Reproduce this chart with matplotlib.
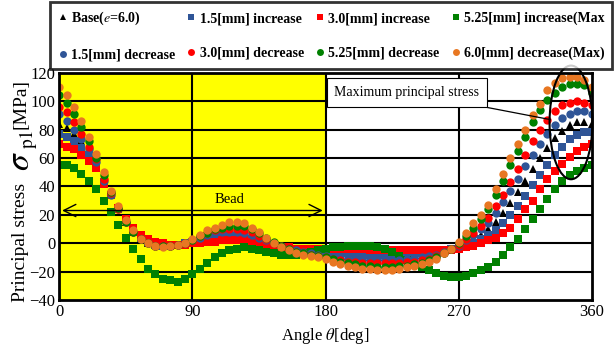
import numpy as np
import matplotlib
matplotlib.use("Agg")
from matplotlib import pyplot as plt
from matplotlib.patches import Ellipse
from matplotlib.lines import Line2D

plt.rcParams['font.family'] = ['Liberation Serif', 'DejaVu Serif']
plt.rcParams['mathtext.fontset'] = 'stix'

# angle theta [deg], every 5 degrees
angle = list(range(0, 361, 5))

base = [84, 81, 77, 72, 65, 56, 44, 34, 24, 15, 8, 3, 0, -1, -2, -2, -1, 0, 1, 3, 4, 5, 6, 6, 6,
        5, 4, 3, 1, -1, -3, -4, -5, -6, -6, -7, -7, -8, -8, -9, -9, -10, -10, -10, -10, -10, -10,
        -9, -9, -8, -7, -6, -5, -4, -3, 0, 3, 6, 10, 15, 21, 28, 36, 44, 52, 60, 67, 74, 79, 83,
        85, 85, 84]
inc_15 = [77, 75, 72, 67, 62, 56, 43, 34, 24, 16, 9, 4, 1, -1, -2, -2, -1, 0, 1, 2, 3, 4, 5, 5, 5,
          4, 3, 2, 0, -1, -3, -4, -5, -5, -6, -6, -6, -7, -7, -7, -7, -8, -8, -8, -8, -8, -8,
          -8, -8, -7, -7, -6, -5, -4, -3, -2, 0, 3, 6, 9, 14, 20, 26, 33, 41, 48, 55, 62, 68, 73,
          76, 78, 78]
inc_30 = [70, 68, 66, 62, 58, 53, 42, 34, 25, 17, 11, 6, 3, 1, 0, -1, -1, -1, 0, 0, 1, 1, 2, 2, 2,
          2, 1, 0, -1, -2, -3, -3, -4, -4, -4, -4, -4, -4, -4, -4, -4, -4, -5, -5, -5, -5, -5,
          -5, -5, -5, -5, -5, -5, -5, -4, -3, -2, 0, 2, 4, 7, 11, 17, 24, 30, 38, 45, 51, 56, 61,
          65, 68, 70]
inc_525 = [55, 55, 53, 49, 44, 38, 30, 22, 13, 4, -4, -11, -18, -22, -25, -26, -27, -25, -22, -18,
           -14, -10, -7, -5, -4, -3, -4, -5, -6, -7, -8, -8, -8, -7, -6, -5, -4, -3, -3, -2, -2,
           -2, -2, -3, -4, -6, -9, -12, -15, -17, -19, -21, -23, -24, -24, -23, -21, -19, -17,
           -13, -8, -3, 3, 10, 17, 24, 31, 38, 44, 48, 51, 53, 55]
dec_15 = [91, 86, 80, 73, 66, 57, 44, 34, 24, 15, 8, 3, 0, -2, -2, -2, -1, 0, 2, 4, 6, 7, 8, 8, 8,
          7, 6, 4, 2, 0, -2, -4, -5, -6, -7, -8, -9, -10, -10, -11, -11, -12, -12, -12, -12, -12,
          -12, -11, -11, -10, -9, -8, -6, -4, -2, 2, 6, 10, 14, 21, 29, 37, 45, 54, 62, 70, 77,
          83, 88, 91, 93, 93, 91]
dec_30 = [96, 92, 85, 77, 68, 59, 45, 35, 24, 15, 8, 3, 0, -2, -2, -2, -1, 0, 2, 5, 7, 9, 10, 10,
          10, 9, 8, 5, 3, 0, -2, -4, -6, -7, -8, -9, -10, -11, -12, -13, -13, -14, -14, -14, -14,
          -14, -14, -13, -13, -12, -11, -9, -7, -4, -1, 3, 7, 12, 18, 26, 34, 43, 52, 62, 72, 80,
          87, 93, 97, 99, 100, 99, 97]
dec_525 = [104, 99, 91, 82, 72, 60, 48, 36, 25, 15, 8, 3, 0, -2, -2, -2, -1, 0, 2, 5, 7, 10, 11,
           12, 12, 12, 10, 7, 4, 1, -2, -4, -6, -7, -8, -9, -10, -11, -13, -14, -15, -16, -16,
           -17, -17, -17, -16, -16, -15, -14, -12, -10, -7, -4, 0, 5, 11, 17, 24, 34, 44, 55, 65,
           75, 85, 94, 101, 106, 110, 112, 112, 111, 106]
dec_60 = [110, 104, 96, 86, 75, 63, 50, 37, 26, 16, 9, 3, 0, -2, -3, -2, -1, 0, 3, 6, 9, 11, 13,
          15, 15, 14, 11, 8, 4, 0, -3, -5, -7, -8, -9, -10, -11, -13, -15, -16, -17, -18, -18,
          -19, -19, -19, -18, -17, -16, -15, -13, -11, -7, -4, 1, 7, 14, 20, 27, 38, 49, 60, 70,
          80, 90, 98, 108, 113, 116, 117, 117, 115, 110]

blue = '#2F5597'
red = '#FF0000'
green = '#008000'
orange = '#E87722'

series = [
    (base, 'Base($e$=6.0)', '^', 'black', 5.5),
    (inc_15, '1.5[mm] increase', 's', blue, 5.5),
    (inc_30, '3.0[mm] increase', 's', red, 5.5),
    (inc_525, '5.25[mm] increase(Max', 's', green, 5.5),
    (dec_15, '1.5[mm] decrease', 'o', blue, 6),
    (dec_30, '3.0[mm] decrease', 'o', red, 6),
    (dec_525, '5.25[mm] decrease', 'o', green, 6),
    (dec_60, '6.0[mm] decrease(Max)', 'o', orange, 6),
]

fig = plt.figure(figsize=(6.14, 3.47), dpi=100)
ax = fig.add_axes([0.0966, 0.1354, 0.8671, 0.6551])

ax.axvspan(0, 180, color='#FFFF00', zorder=0, lw=0)
for y in range(-20, 120, 20):
    ax.axhline(y, color='black', lw=1.5, zorder=1)
for x in [90, 180, 270]:
    ax.axvline(x, color='black', lw=1.5, zorder=1)

handles = []
for vals, lab, mk, col, ms in series:
    ax.plot(angle, vals, ls='none', marker=mk, color=col, ms=ms, mew=0, zorder=3)
    handles.append(Line2D([], [], ls='none', marker=mk, color=col, ms=5, mew=0, label=lab))

ax.set_xlim(0, 360)
ax.set_ylim(-40, 120)
ax.set_xticks([0, 90, 180, 270, 360])
ax.set_yticks(range(-40, 121, 20))
ax.tick_params(length=0, labelsize=12, pad=3)
for s in ax.spines.values():
    s.set_linewidth(2)
    s.set_zorder(4)

# Bead arrow
ax.annotate('', xy=(0, 23), xytext=(180, 23),
            arrowprops=dict(arrowstyle='<->', lw=1.0, color='black', mutation_scale=22), zorder=4)
ax.text(115, 26.5, 'Bead', ha='center', va='bottom', fontsize=10.5, zorder=5)

# Maximum principal stress callout
ax.text(186, 106, 'Maximum principal stress', ha='left', va='center', fontsize=10, zorder=6,
        bbox=dict(boxstyle='square,pad=0.55', fc='white', ec='black', lw=0.8))
ax.plot([287, 332], [96, 87], color='black', lw=0.9, zorder=5)
ax.add_patch(Ellipse((346, 85), 29, 80, fill=False, ec='black', lw=1.5, zorder=6, clip_on=False))

ax.set_xlabel(r'Angle $\theta$[deg]', fontsize=12, labelpad=4)

# y label pieces
fig.text(0.034, 0.300, 'Principal stress', rotation=90, ha='center', va='center', fontsize=14)
fig.text(0.034, 0.535, r'$\sigma$', rotation=90, ha='center', va='center', fontsize=24)
fig.text(0.045, 0.598, r'$\mathrm{p1}$', rotation=90, ha='center', va='center', fontsize=14)
fig.text(0.034, 0.700, '[MPa]', rotation=90, ha='center', va='center', fontsize=14)

order = [0, 4, 1, 5, 2, 6, 3, 7]
leg = fig.legend([handles[i] for i in order], [handles[i].get_label() for i in order],
                 ncol=4, loc='lower left', bbox_to_anchor=(0.081, 0.80, 0.916, 0.19),
                 mode='expand', frameon=True, fancybox=False, edgecolor='black',
                 prop={'weight': 'bold', 'size': 10}, handletextpad=0.2, handlelength=0.8,
                 columnspacing=0.3, borderpad=0.55, labelspacing=1.55, borderaxespad=0)
leg.get_frame().set_linewidth(2)

fig.savefig('out.png', dpi=100)
